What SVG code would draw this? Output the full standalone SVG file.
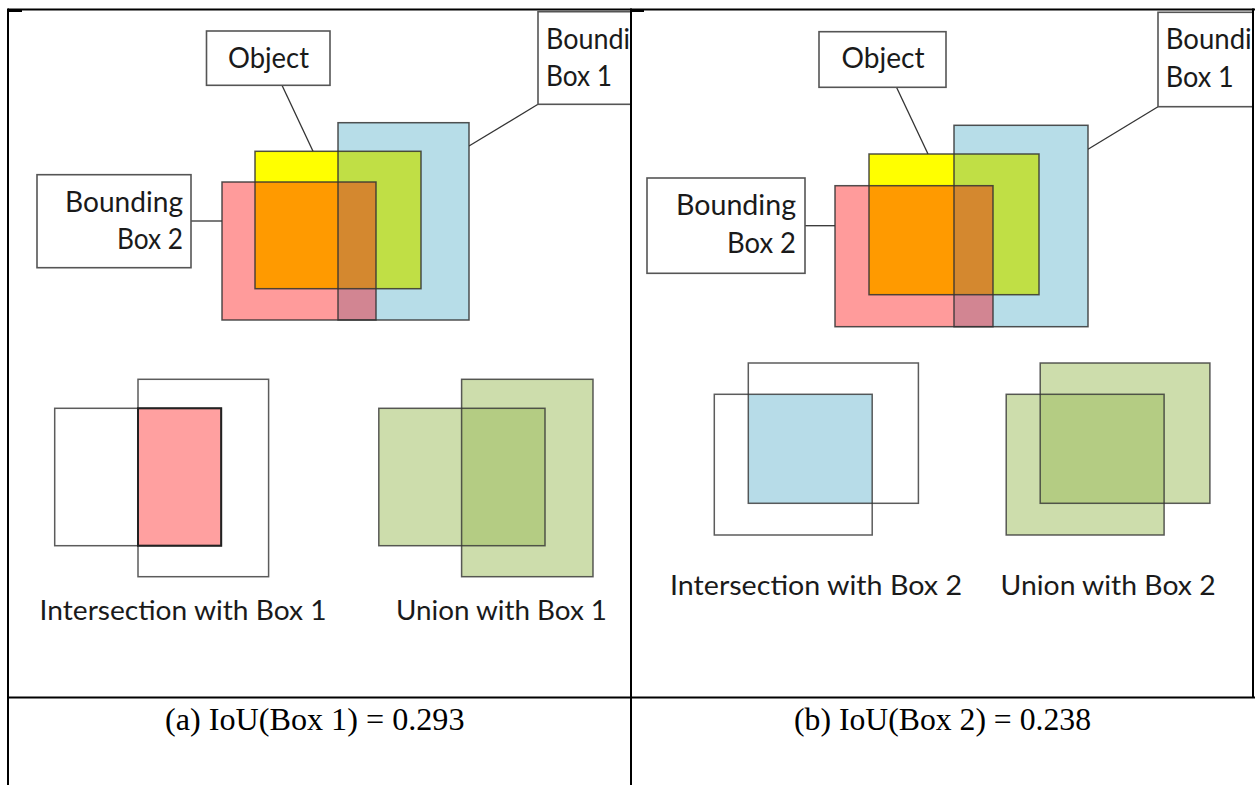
<svg xmlns="http://www.w3.org/2000/svg" width="1255" height="785" viewBox="0 0 1255 785">
<defs>
<clipPath id="clipL"><rect x="9" y="10" width="621" height="687"/></clipPath>
<clipPath id="clipR"><rect x="632" y="10" width="620" height="687"/></clipPath>
</defs>
<style>
.lbl{fill:#ffffff;stroke:#555555;stroke-width:1.6}
.edge{fill:none;stroke:#333333;stroke-width:1.5;stroke-opacity:0.85}
.ol{fill:none;stroke:#333333;stroke-width:1.5;stroke-opacity:0.8}
.con{stroke:#333333;stroke-width:1.3;fill:none}
.t{font-family:Lato,"Liberation Sans",sans-serif;font-size:29px;fill:#1a1a1a}
.ts{font-family:Lato,"Liberation Sans",sans-serif;font-size:27px;fill:#1a1a1a}
.cap{font-family:"Liberation Serif","Times New Roman",serif;font-size:32px;fill:#000000}
.tbl{stroke:#000000;stroke-width:2;fill:none}
.blue{fill:#b7dde8}.yel{fill:#ffff00}.grn{fill:#c0df45}.red{fill:#ff9b9b}
.org{fill:#ff9a00}.mauve{fill:#d28592}.brn{fill:#d4882f}
.ired{fill:#ffa0a0}.iblue{fill:#b7dce8}.ugrn{fill:#9bbb59;fill-opacity:0.5}
</style>

<g id="left-panel" clip-path="url(#clipL)">
  <g id="connectors-left">
    <line class="con" x1="282" y1="85.3" x2="313" y2="151.3"/>
    <line class="con" x1="538" y1="104.3" x2="469" y2="146"/>
    <line class="con" x1="191" y1="221" x2="222" y2="221"/>
  </g>
  <g id="boxes-left">
    <rect class="blue" x="338" y="122.7" width="131" height="197.3"/>
    <rect class="yel" x="255" y="151.3" width="166" height="137.4"/>
    <rect class="grn" x="338" y="151.3" width="83" height="137.4"/>
    <rect class="red" x="222" y="182" width="154" height="138"/>
    <rect class="org" x="255" y="182" width="121" height="106.7"/>
    <rect class="mauve" x="338" y="182" width="38" height="138"/>
    <rect class="brn" x="338" y="182" width="38" height="106.7"/>
    <rect class="edge" x="338" y="122.7" width="131" height="197.3"/>
    <rect class="edge" x="255" y="151.3" width="166" height="137.4"/>
    <rect class="edge" x="222" y="182" width="154" height="138"/>
  </g>
  <g id="label-object-left">
    <rect class="lbl" x="206.5" y="31" width="123.5" height="54.3"/>
    <text class="t" x="228" y="67.5" textLength="81" lengthAdjust="spacingAndGlyphs">Object</text>
  </g>
  <g id="label-box1-left">
    <rect class="lbl" x="538" y="11.7" width="120" height="92.6"/>
    <text class="t" x="546" y="48.5" textLength="84" lengthAdjust="spacingAndGlyphs">Boundi</text>
    <text class="t" x="546" y="86" textLength="66" lengthAdjust="spacingAndGlyphs">Box 1</text>
  </g>
  <g id="label-box2-left">
    <rect class="lbl" x="37" y="174.7" width="154" height="93"/>
    <text class="t" x="65" y="211.7" textLength="118" lengthAdjust="spacingAndGlyphs">Bounding</text>
    <text class="t" x="117" y="248.5" textLength="66" lengthAdjust="spacingAndGlyphs">Box 2</text>
  </g>
  <g id="intersection-left">
    <rect class="ired" x="138" y="408.3" width="83.2" height="137.4"/>
    <rect class="ol" x="54.7" y="408.3" width="166.5" height="137.4"/>
    <rect class="ol" x="138" y="379.3" width="130.6" height="197.4"/>
    <rect fill="none" stroke="#222" stroke-width="2" x="138" y="408.3" width="83.2" height="137.4"/>
    <text class="ts" x="39.6" y="620" textLength="287" lengthAdjust="spacingAndGlyphs">Intersection with Box 1</text>
  </g>
  <g id="union-left">
    <rect class="ugrn" x="378.8" y="408.3" width="166.2" height="137.4"/>
    <rect class="ugrn" x="461.6" y="379.3" width="131.4" height="197.4"/>
    <rect class="ol" x="378.8" y="408.3" width="166.2" height="137.4"/>
    <rect class="ol" x="461.6" y="379.3" width="131.4" height="197.4"/>
    <text class="ts" x="396" y="620" textLength="211" lengthAdjust="spacingAndGlyphs">Union with Box 1</text>
  </g>
</g>

<g id="right-panel" clip-path="url(#clipR)">
  <g id="connectors-right">
    <line class="con" x1="896.5" y1="87.3" x2="928" y2="154"/>
    <line class="con" x1="1158" y1="106.7" x2="1088" y2="149.3"/>
    <line class="con" x1="805" y1="225.7" x2="835" y2="225.7"/>
  </g>
  <g id="boxes-right">
    <rect class="blue" x="954" y="125.3" width="134" height="201.4"/>
    <rect class="yel" x="869" y="154" width="170" height="140.7"/>
    <rect class="grn" x="954" y="154" width="85" height="140.7"/>
    <rect class="red" x="835" y="185.7" width="158" height="141"/>
    <rect class="org" x="869" y="185.7" width="124" height="109"/>
    <rect class="mauve" x="954" y="185.7" width="39" height="141"/>
    <rect class="brn" x="954" y="185.7" width="39" height="109"/>
    <rect class="edge" x="954" y="125.3" width="134" height="201.4"/>
    <rect class="edge" x="869" y="154" width="170" height="140.7"/>
    <rect class="edge" x="835" y="185.7" width="158" height="141"/>
  </g>
  <g id="label-object-right">
    <rect class="lbl" x="819" y="31.7" width="127" height="55.6"/>
    <text class="t" x="841.5" y="68" textLength="83" lengthAdjust="spacingAndGlyphs">Object</text>
  </g>
  <g id="label-box1-right">
    <rect class="lbl" x="1158" y="12.3" width="120" height="94.4"/>
    <text class="t" x="1165.7" y="48.5" textLength="86" lengthAdjust="spacingAndGlyphs">Boundi</text>
    <text class="t" x="1165.7" y="87.3" textLength="68" lengthAdjust="spacingAndGlyphs">Box 1</text>
  </g>
  <g id="label-box2-right">
    <rect class="lbl" x="647" y="178" width="158" height="95.3"/>
    <text class="t" x="676" y="215" textLength="120" lengthAdjust="spacingAndGlyphs">Bounding</text>
    <text class="t" x="727" y="253.3" textLength="69" lengthAdjust="spacingAndGlyphs">Box 2</text>
  </g>
  <g id="intersection-right">
    <rect class="iblue" x="748.3" y="394.3" width="123.9" height="109"/>
    <rect class="ol" x="714.3" y="394.3" width="157.9" height="140.7"/>
    <rect class="ol" x="748.3" y="363" width="170.1" height="140.3"/>
    <text class="ts" x="670" y="595" textLength="292" lengthAdjust="spacingAndGlyphs">Intersection with Box 2</text>
  </g>
  <g id="union-right">
    <rect class="ugrn" x="1006.2" y="394.3" width="157.9" height="140.7"/>
    <rect class="ugrn" x="1040.2" y="363" width="169.7" height="140.3"/>
    <rect class="ol" x="1006.2" y="394.3" width="157.9" height="140.7"/>
    <rect class="ol" x="1040.2" y="363" width="169.7" height="140.3"/>
    <text class="ts" x="1000.6" y="595" textLength="215" lengthAdjust="spacingAndGlyphs">Union with Box 2</text>
  </g>
</g>

<g id="table">
  <line class="tbl" x1="8" y1="9.5" x2="1255" y2="9.5"/>
  <line class="tbl" x1="8" y1="8.5" x2="8" y2="785"/>
  <line class="tbl" x1="631" y1="8.5" x2="631" y2="785"/>
  <line class="tbl" x1="1253" y1="8.5" x2="1253" y2="697.5"/>
  <line class="tbl" x1="8" y1="697.5" x2="1255" y2="697.5"/>
  <line stroke="#000" stroke-width="3" x1="8" y1="10.5" x2="22" y2="10.5"/>
  <line stroke="#000" stroke-width="3" x1="631" y1="10.5" x2="644" y2="10.5"/>
</g>

<g id="caption-a">
  <text class="cap" x="165" y="730" textLength="299.5" lengthAdjust="spacingAndGlyphs">(a) IoU(Box 1) = 0.293</text>
</g>
<g id="caption-b">
  <text class="cap" x="794" y="730" textLength="297" lengthAdjust="spacingAndGlyphs">(b) IoU(Box 2) = 0.238</text>
</g>
</svg>
